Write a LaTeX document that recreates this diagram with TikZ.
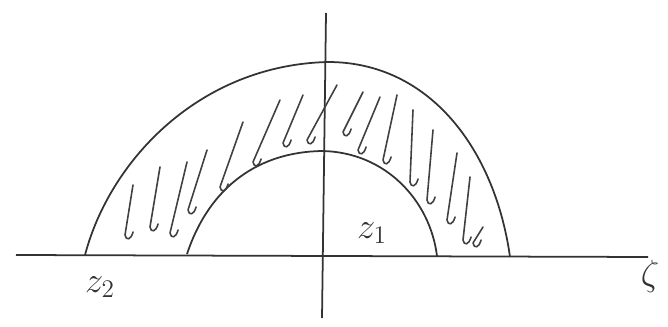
\documentclass[tikz,border=0pt]{standalone}
\usepackage{amsmath,amssymb}
\usepackage{tikz}
\usetikzlibrary{calc}

\begin{document}
\begin{tikzpicture}[x=0.02cm, y=-0.02cm,
  axis/.style={line width=1pt, draw=black!80},
  curve/.style={line width=1pt, draw=black!80},
  hatch/.style={line width=0.9pt, draw=black!75, line cap=round, line join=round},
  lbl/.style={font=\huge, text=black!80, inner sep=1pt},
]
  \useasboundingbox (0,0) rectangle (668,327);

  % Axes
  \coordinate (xl) at (16,255);
  \coordinate (xr) at (648,257);
  \coordinate (yt) at (326,13);
  \coordinate (yb) at (322,318);
  \draw[axis] (xl) -- (xr);
  \draw[axis] (yb) -- (yt);

  % Outer and inner arcs
  \coordinate (outl) at (85,255);
  \coordinate (outr) at (510,257);
  \coordinate (inl) at (187,254);
  \coordinate (inr) at (437,256);
  \draw[curve] (outl) .. controls (110,160) and (200,65) .. (328,62)
                      .. controls (430,62) and (495,150) .. (outr);
  \draw[curve] (inl) .. controls (210,185) and (260,152) .. (322,151)
                     .. controls (385,152) and (430,200) .. (inr);

  % Hatching between the arcs
  \foreach \a/\b/\c/\d in {133/185/125/235, 160/167/150/227, 187/162/170/233,
                           207/150/188/210, 243/122/220/187, 280/100/253/162,
                           303/95/283/143, 337/85/307/140, 363/92/343/132,
                           380/97/358/150, 397/95/383/160, 413/110/410/182,
                           433/130/427/200, 457/153/447/220, 470/177/463/240,
                           483/227/473/243}
    \draw[hatch] (\a,\b) -- (\c,\d) .. controls (\c+1,\d+6) and (\c+6,\d+5) .. (\c+8,\d-3);

  % Labels
  \node[lbl] (ztwo) at (100,287) {$z_2$};
  \node[lbl] (zone) at (372,233) {$z_1$};
  \node[lbl] (zeta) at (650,276) {$\zeta$};
\end{tikzpicture}
\end{document}
